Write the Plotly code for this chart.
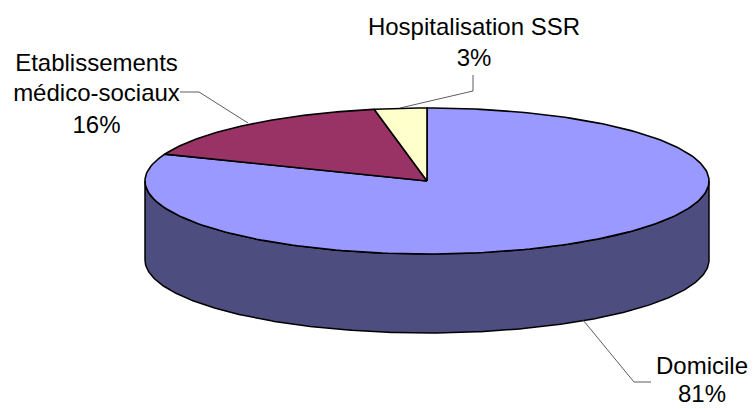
import numpy as np
import plotly.graph_objects as go

categories = ["Domicile", "Etablissements médico-sociaux", "Hospitalisation SSR"]
values = [81, 16, 3]
top_colors = ["#9999FF", "#993366", "#FFFFCC"]
side_color = "#4D4D80"

CX, CY, RX, RY, DEPTH = 427, 181, 282, 73, 79


def rim(a0, a1, n=240, dy=0):
    t = np.radians(np.linspace(a0, a1, n))
    return CX + RX * np.sin(t), CY - RY * np.cos(t) + dy


fig = go.Figure()

# side wall (visible front half of the disc)
xt, yt = rim(90, 270)
xb, yb = rim(270, 90, dy=DEPTH)
fig.add_trace(go.Scatter(
    x=np.r_[xt, xb, xt[0]], y=np.r_[yt, yb, yt[0]], mode="lines", fill="toself",
    fillcolor=side_color, line=dict(color="black", width=1.5), hoverinfo="skip"))

# top face slices, clockwise from 12 o'clock
total = sum(values)
start = 0.0
for name, v, col in zip(categories, values, top_colors):
    end = start + 360.0 * v / total
    xs, ys = rim(start, end)
    fig.add_trace(go.Scatter(
        x=np.r_[CX, xs, CX], y=np.r_[CY, ys, CY], mode="lines", fill="toself",
        fillcolor=col, line=dict(color="black", width=1.6), name=name, hoverinfo="skip"))
    start = end

# leader lines
leader_x = [[180, 199, 248], [473, 473, 400], [583, 634, 651]]
leader_y = [[92, 92, 123], [75, 91, 108], [320, 382, 382]]
for lx, ly in zip(leader_x, leader_y):
    fig.add_trace(go.Scatter(x=lx, y=ly, mode="lines",
                             line=dict(color="#333333", width=0.8), hoverinfo="skip"))

# labels, one line at a time to keep the wide line spacing
label_text = ["Hospitalisation SSR", "3%", "Etablissements", "médico-sociaux", "16%", "Domicile", "81%"]
label_x = [474, 474, 96.5, 96.5, 96.5, 702, 702]
label_y = [29, 60, 65, 95, 127, 368, 396]
fig.add_trace(go.Scatter(x=label_x, y=label_y, text=label_text, mode="text",
                         textposition="middle center",
                         textfont=dict(family="Liberation Sans, Arial, sans-serif", size=24, color="black"),
                         hoverinfo="skip", cliponaxis=False))

fig.update_layout(
    width=754, height=409, margin=dict(l=0, r=0, t=0, b=0), showlegend=False,
    paper_bgcolor="white", plot_bgcolor="white",
    xaxis=dict(range=[0, 754], visible=False, fixedrange=True),
    yaxis=dict(range=[409, 0], visible=False, fixedrange=True),
)
fig.write_html("out.html", config={"displayModeBar": False},
               post_script="document.body.style.margin='0';document.body.style.overflow='hidden';")
